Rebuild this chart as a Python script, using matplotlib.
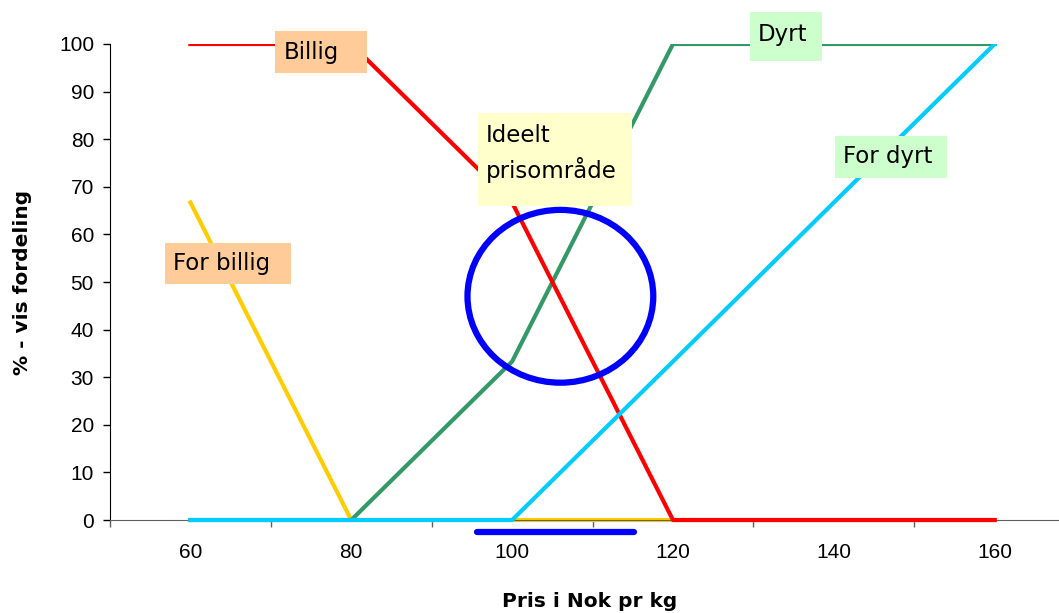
import matplotlib
matplotlib.use("Agg")
import matplotlib.pyplot as plt
from matplotlib.patches import Ellipse, Rectangle

# prices (Nok pr kg) and the share of answers for each price judgement
prices = [60, 80, 100, 120, 140, 160]
for_billig = [66.7, 0, 0, 0, 0, 0]
billig = [100, 100, 66.7, 0, 0, 0]
dyrt = [0, 0, 33.3, 100, 100, 100]
for_dyrt = [0, 0, 0, 33.3, 66.7, 100]

tick_labels = ["60", "80", "100", "120", "140", "160"]

fig = plt.figure(figsize=(10.59, 6.13), dpi=100)
# y: 0 at px 520, 100 at px 44 -> 4.76 px per unit, axis goes down to -3
ax = fig.add_axes([110 / 1059, (613 - 534.3) / 613, 949 / 1059, 490.3 / 613])

lw = 3.0
ax.plot(prices, for_billig, color="#FFCC00", lw=lw, zorder=2)
ax.plot(prices, dyrt, color="#339966", lw=lw, zorder=3)
ax.plot(prices, billig, color="#FF0000", lw=lw, zorder=4)
ax.plot(prices, for_dyrt, color="#00CCFF", lw=lw, zorder=5)

# ideal price area
ax.add_patch(Ellipse((106.0, 47.0), 23.1, 36.3, fill=False, ec="#0000FF", lw=4.5, zorder=6))
ax.plot([95.6, 115.1], [-2.5, -2.5], color="#0000FF", lw=4.5,
        solid_capstyle="round", clip_on=False, zorder=6)

# axes styling
for s in ["top", "right"]:
    ax.spines[s].set_visible(False)
ax.spines["bottom"].set_position(("data", 0))
ax.spines["bottom"].set_color("#606060")
ax.spines["left"].set_bounds(0, 100)
ax.spines["left"].set_color("black")

ax.set_yticks(range(0, 101, 10))
ax.set_xticks(range(50, 171, 20))
ax.set_xticklabels([])
ax.set_xticks(prices, minor=True)
ax.set_xticklabels(tick_labels, minor=True)
ax.set_xlim(50, 168)
ax.set_ylim(-3, 100)

ax.tick_params(axis="y", direction="out", length=5, width=1, pad=6.5, labelsize=15,
               labelfontfamily="Liberation Sans")
ax.tick_params(axis="x", which="major", direction="out", length=5, width=1, color="#606060")
ax.tick_params(axis="x", which="minor", length=0, pad=16.5, labelsize=15,
               labelfontfamily="Liberation Sans")

fig.text(0.557, 0.018, "Pris i Nok pr kg", ha="center", va="center",
         fontsize=14.5, fontweight="bold")
fig.text(0.021, 0.54, "% - vis fordeling", ha="center", va="center",
         rotation=90, fontsize=14.5, fontweight="bold")

# label boxes: (x0, y0, x1, y1) in data units, text start, text
boxes = [
    ((70.57, 93.9, 82.01, 102.7), "#FFCC99", 71.6, 98.3, "Billig"),
    ((56.89, 49.6, 72.56, 58.2), "#FFCC99", 57.8, 53.8, "For billig"),
    ((95.70, 66.0, 114.85, 85.5), "#FFFFCC", 96.7, 77.0, "Ideelt\nprisområde"),
    ((129.53, 96.4, 138.48, 106.7), "#CCFFCC", 130.5, 102.0, "Dyrt"),
    ((140.10, 71.9, 154.03, 80.7), "#CCFFCC", 141.1, 76.3, "For dyrt"),
]
for (x0, y0, x1, y1), fc, tx, ty, label in boxes:
    ax.add_patch(Rectangle((x0, y0), x1 - x0, y1 - y0, fc=fc, ec="none",
                           zorder=7, clip_on=False))
    ax.text(tx, ty, label, ha="left", va="center", fontsize=16.5,
            linespacing=1.5, zorder=8, clip_on=False)

fig.savefig("out.png", dpi=100)
